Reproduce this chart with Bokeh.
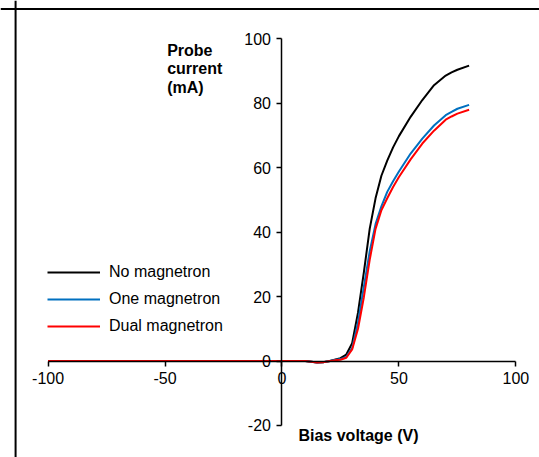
from bokeh.plotting import figure
from bokeh.models import (LinearAxis, FixedTicker, Span, Label, Legend,
                          LegendItem, Range1d)
from bokeh.embed import file_html
from bokeh.resources import INLINE

# ---- data ----
bias_v = [-100, -50, 0, 10, 12.5, 15, 17.5, 20, 22.5, 25, 27.5, 30, 32.5, 35,
          37.5, 40, 42.5, 45, 47.5, 50, 55, 60, 65, 70, 72.5, 75, 80]
no_magnetron = [0, 0, 0, 0, -0.2, -0.45, -0.4, -0.1, 0.4, 0.9, 2.0, 5.5, 15.0,
                27.5, 41.0, 50.5, 57.5, 62.2, 66.3, 69.8, 75.8, 81.0, 85.6,
                88.6, 89.6, 90.4, 91.7]
one_magnetron = [0, 0, 0, 0, -0.2, -0.45, -0.4, -0.1, 0.3, 0.6, 1.3, 4.0, 12.0,
                 23.0, 34.0, 42.5, 48.0, 52.5, 55.8, 58.8, 64.4, 69.0, 73.1,
                 76.3, 77.3, 78.3, 79.5]
dual_magnetron = [0, 0, 0, 0, -0.2, -0.45, -0.4, -0.1, 0.2, 0.4, 1.0, 3.6, 10.0,
                  19.8, 31.4, 41.0, 46.8, 50.5, 54.0, 57.1, 62.6, 67.5, 71.5,
                  74.9, 75.9, 76.8, 78.0]

x_ticks = [-100, -50, 0, 50, 100]
y_ticks = [-20, 0, 20, 40, 60, 80, 100]
series_names = ["No magnetron", "One magnetron", "Dual magnetron"]
series_colors = ["#000000", "#0070C0", "#FF0000"]

FONT = "Liberation Sans"
FS = "16px"

p = figure(width=539, height=457, output_backend="svg", toolbar_location=None,
           x_range=Range1d(-120.35, 110.1), y_range=Range1d(-29.95, 111.9),
           x_axis_location=None, y_axis_location=None,
           min_border_left=0, min_border_right=0, min_border_top=0,
           min_border_bottom=0)
p.grid.visible = False
p.outline_line_color = None
p.background_fill_color = "white"
p.border_fill_color = "white"


def style_axis(ax, ticks):
    ax.axis_line_color = "black"
    ax.axis_line_width = 1.5
    ax.major_tick_line_color = "black"
    ax.major_tick_line_width = 1.5
    ax.major_tick_in = 0
    ax.major_tick_out = 5
    ax.minor_tick_in = 0
    ax.minor_tick_out = 0
    ax.major_label_text_font = FONT
    ax.major_label_text_font_size = FS
    ax.major_label_text_color = "black"
    ax.major_label_standoff = 6
    ax.major_label_overrides = {t: str(t) for t in ticks}


xaxis = LinearAxis(fixed_location=0, bounds=(-100, 100),
                   ticker=FixedTicker(ticks=x_ticks, minor_ticks=[]))
style_axis(xaxis, x_ticks)
p.add_layout(xaxis, "below")

yaxis = LinearAxis(fixed_location=0, bounds=(-20, 100),
                   ticker=FixedTicker(ticks=y_ticks, minor_ticks=[]))
style_axis(yaxis, y_ticks)
p.add_layout(yaxis, "left")

renderers = []
for ys, c in zip([no_magnetron, one_magnetron, dual_magnetron], series_colors):
    r = p.line(bias_v, ys, line_color=c, line_width=2, line_join="round")
    renderers.append(r)

legend = Legend(items=[LegendItem(label=n, renderers=[r])
                       for n, r in zip(series_names, renderers)],
                location=(47, 121), padding=0, margin=0,
                border_line_color=None, background_fill_alpha=0,
                glyph_width=53, glyph_height=20, label_height=20,
                label_standoff=9, spacing=7,
                label_text_font=FONT, label_text_font_size=FS,
                label_text_color="black")
p.add_layout(legend)

# chart border (left and top edges visible in the reference)
p.add_layout(Span(location=-113.9, dimension="height", line_color="black",
                  line_width=2))
p.add_layout(Span(location=109.3, dimension="width", line_color="black",
                  line_width=2))

# axis titles
for txt, yy in zip(["Probe", "current", "(mA)"], [96.4, 90.7, 84.9]):
    p.add_layout(Label(x=-49.1, y=yy, text=txt, text_font=FONT,
                       text_font_size=FS, text_font_style="bold",
                       text_color="black", text_baseline="alphabetic"))
p.add_layout(Label(x=7.05, y=-23.1, text="Bias voltage (V)", text_font=FONT,
                   text_font_size=FS, text_font_style="bold",
                   text_color="black", text_baseline="alphabetic"))

open("out.html", "w").write(file_html(p, INLINE))
